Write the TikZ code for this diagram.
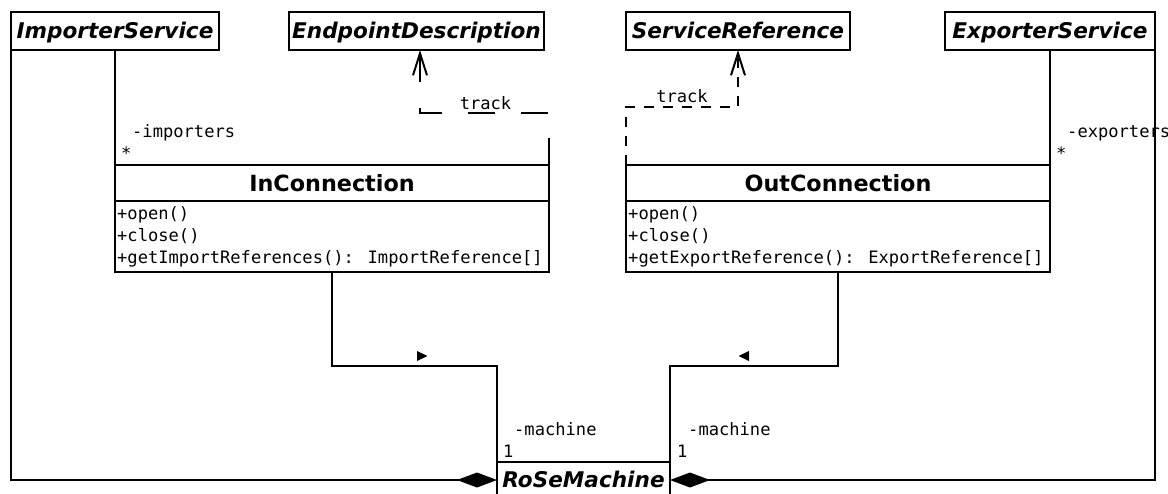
\documentclass[tikz,border=0pt]{standalone}
\usepackage{fontspec}
\setmainfont{DejaVu Sans}
\newfontfamily\monof{DejaVu Sans Mono}
\usetikzlibrary{arrows.meta,calc}
\begin{document}
\begin{tikzpicture}[x=1pt,y=-1pt,
  lw/.style={line width=2pt},
  absname/.style={draw, lw, outer sep=0pt, font=\fontsize{21.6}{24}\selectfont\bfseries\itshape, inner sep=0pt, text height=15.5pt, text depth=0pt, minimum height=38pt},
  clsname/.style={draw, lw, outer sep=0pt, font=\fontsize{22.3}{24}\selectfont\bfseries, inner sep=0pt, minimum height=36pt},
  opsbox/.style={draw, lw, outer sep=0pt, inner sep=0pt, minimum height=71pt},
  mono/.style={font=\fontsize{17.1}{22.3}\selectfont\monof, inner sep=0pt},
  lbl/.style={mono, anchor=base west},
  assoc/.style={lw},
  dep/.style={lw, dash pattern=on 27pt off 26pt},
  dep2/.style={lw, dash pattern=on 10pt off 9pt},
  opentip/.style={-{Straight Barb[length=22pt,width=14pt]}},
  comp/.style={-{Diamond[length=40pt,width=15pt]}}
]
\clip (0,0) rectangle (1168,493);
\fill[white] (0,0) rectangle (1168,493);

% classes
\node[absname, minimum width=208pt] (imp) at (115,31) {ImporterService};
\node[absname, minimum width=255pt] (ep) at (416.5,31) {EndpointDescription};
\node[absname, minimum width=224pt] (sr) at (738,31) {ServiceReference};
\node[absname, minimum width=210pt] (exp) at (1050,31) {ExporterService};

\node[clsname, minimum width=434pt] (inname) at (332,183) {InConnection};
\node[opsbox, minimum width=434pt, anchor=north] (inops) at (inname.south) {};
\node[mono, anchor=north west, align=left] (inopst) at (117,206) {+open()\\+close()\\+getImportReferences(): ImportReference[]};

\node[clsname, minimum width=424pt] (outname) at (838,183) {OutConnection};
\node[opsbox, minimum width=424pt, anchor=north] (outops) at (outname.south) {};
\node[mono, anchor=north west, align=left] (outopst) at (628,206) {+open()\\+close()\\+getExportReference(): ExportReference[]};

\node[absname, minimum width=173pt, minimum height=36pt] (rose) at (583.5,480) {RoSeMachine};

% connectors
\draw[assoc, comp] (imp.south west) |- (rose.west);
\draw[assoc, comp] (exp.south east) |- (rose.east);
\draw[assoc] (imp.south) -- (inname.north west);
\draw[assoc] (exp.south) -- (outname.north east);
\draw[assoc] (inops.south) -- ++(0,94) -| (rose.north west);
\draw[assoc] (outops.south) -- ++(0,94) -| (rose.north east);
\draw[dep, opentip] (inname.north east) -- ++(0,-52) -| ([xshift=3.5pt]ep.south);
\draw[dep2, opentip] (outname.north west) -- ++(0,-58) -| (sr.south);

% labels
\node[lbl] (limp) at (132,137) {-importers};
\node[lbl] (simp) at (121,159) {*};
\node[lbl] (lexp) at (1067,137) {-exporters};
\node[lbl] (sexp) at (1056,159) {*};
\node[lbl] (lm1) at (514,435) {-machine};
\node[lbl] (one1) at (503,457) {1};
\node[lbl] (lm2) at (688,435) {-machine};
\node[lbl] (one2) at (677,457) {1};
\node[mono] (t1) at (485.5,103) {track};
\node[mono] (t2) at (682,96) {track};

% reading direction markers
\fill (417,351) -- (427.5,356) -- (417,361) -- cycle;
\fill (749,351) -- (738.5,356) -- (749,361) -- cycle;
\end{tikzpicture}
\end{document}
